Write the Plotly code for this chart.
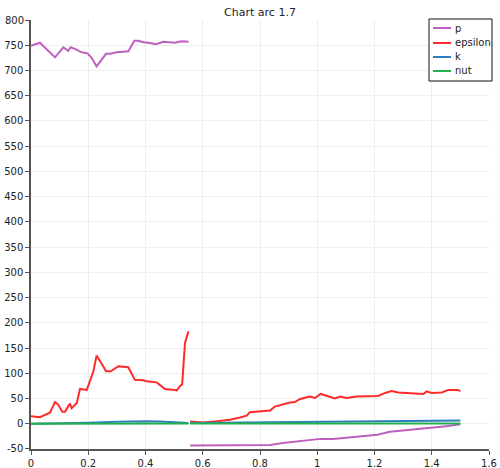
import plotly.graph_objects as go

# p
p_x = [0.0, 0.031, 0.084, 0.113, 0.130, 0.139, 0.157, 0.177, 0.197, 0.212, 0.229, 0.262, 0.276, 0.299, 0.340,
       0.361, 0.375, 0.392, 0.410, 0.437, 0.462, 0.503, 0.526, 0.550,
       None,
       0.556, 0.65, 0.765, 0.835, 0.88, 0.95, 1.01, 1.056, 1.13, 1.21, 1.254, 1.33, 1.394, 1.45, 1.5]
p_y = [749, 755, 726, 746, 739, 746, 742, 736, 734, 725, 708, 733, 733, 736, 738,
       759, 759, 756, 755, 752, 757, 755, 758, 757,
       None,
       -43, -43, -43, -42, -38, -34, -30, -30, -26, -22, -16, -12, -8.5, -5, -1]

# epsilon
e_x = [0.0, 0.031, 0.066, 0.084, 0.095, 0.109, 0.119, 0.136, 0.142, 0.160, 0.171, 0.195, 0.218, 0.229, 0.247,
       0.262, 0.279, 0.305, 0.340, 0.363, 0.392, 0.404, 0.439, 0.468, 0.503, 0.509, 0.521, 0.528, 0.538, 0.550,
       None,
       0.556, 0.602, 0.649, 0.695, 0.730, 0.753, 0.765, 0.835, 0.852, 0.905, 0.922, 0.940, 0.975, 0.992, 1.012,
       1.033, 1.062, 1.079, 1.103, 1.138, 1.173, 1.213, 1.237, 1.260, 1.283, 1.318, 1.342, 1.371, 1.382, 1.400,
       1.435, 1.458, 1.475, 1.490, 1.500]
e_y = [15, 13, 22, 43, 38, 24, 24, 40, 31, 41, 69, 67, 104, 135, 119,
       104, 104, 114, 112, 87, 86, 84, 82, 69, 67, 66, 75, 78, 160, 183,
       None,
       4.5, 2.6, 5, 8, 12.5, 16, 23, 26, 34, 42, 43, 49, 54, 51, 59,
       55, 50, 54, 51, 54, 54, 55, 61, 65, 62, 61, 59, 59, 64, 61,
       62, 67, 67, 67, 65]

# k
k_x = [0.0, 0.1, 0.2, 0.3, 0.35, 0.4, 0.45, 0.5, 0.55, None, 0.556, 0.7, 0.8, 1.0, 1.2, 1.35, 1.5]
k_y = [0.2, 0.6, 2.0, 4.0, 5.0, 5.0, 4.5, 3.5, 1.5, None, 1.5, 2.3, 3.0, 4.0, 5.0, 5.8, 6.5]

# nut
n_x = [0.0, 0.2, 0.4, 0.55, None, 0.556, 0.8, 1.0, 1.2, 1.5]
n_y = [0.1, 0.2, 0.3, 0.3, None, 0.3, 0.4, 0.5, 0.5, 0.6]

y_ticks = list(range(-50, 801, 50))
y_top = 800

names = ["p", "epsilon", "k", "nut"]
colors = ["#bf5fbf", "#ff2a2a", "#2f7fc0", "#22b04a"]
series = [(p_x, p_y), (e_x, e_y), (k_x, k_y), (n_x, n_y)]

fig = go.Figure()
for name, col, (xs, ys) in zip(names, colors, series):
    fig.add_trace(go.Scatter(x=xs, y=ys, mode="lines", name=name, showlegend=False,
                             line=dict(color=col, width=2), connectgaps=False))

# compact legend box (styled like the reference)
W, H, L, T = 458.0, 429.0, 31.0, 20.0
def px(xp):
    return (xp - L) / W
def py(yp):
    return (T + H - yp) / H

shapes = [dict(type="rect", xref="paper", yref="paper", x0=px(429), x1=px(492), y0=py(81), y1=py(19),
               line=dict(color="#111111", width=1), fillcolor="white", layer="above")]
annotations = []
rows = [28, 43, 57, 71]
for name, col, ry in zip(names, colors, rows):
    shapes.append(dict(type="line", xref="paper", yref="paper", x0=px(433), x1=px(451), y0=py(ry), y1=py(ry),
                       line=dict(color=col, width=2), layer="above"))
    annotations.append(dict(text=name, xref="paper", yref="paper", x=px(453), y=py(ry), xanchor="left",
                            yanchor="middle", showarrow=False, font=dict(size=10, color="#222222")))

# top y tick label (hidden by plotly at the range edge)
annotations.append(dict(text=str(y_top), xref="paper", yref="y", x=0, y=y_top, xanchor="right",
                        yanchor="middle", xshift=-5, showarrow=False,
                        font=dict(size=10, color="#222222")))

font = "DejaVu Sans"
fig.update_layout(
    width=500, height=468,
    margin=dict(l=31, r=11, t=20, b=19),
    paper_bgcolor="white", plot_bgcolor="white",
    font=dict(family=font, size=10, color="#222222"),
    title=dict(text="Chart arc 1.7", x=0.5, xref="paper", y=1 - 12 / 468, yref="container",
               xanchor="center", yanchor="middle", font=dict(size=11, color="#222222")),
    showlegend=False,
    shapes=shapes, annotations=annotations,
)
fig.update_xaxes(range=[0, 1.6], dtick=0.2, showgrid=True, gridcolor="#eeeeee",
                 showline=True, linecolor="#555555", linewidth=1.5, ticks="outside",
                 ticklen=4, tickcolor="#555555", zeroline=False, automargin=False,
                 ticklabeloverflow="allow")
fig.update_yaxes(range=[-50.05, 800.05], tickmode="array", tickvals=y_ticks,
                 ticktext=[str(v) if v != y_top else "" for v in y_ticks], showgrid=True,
                 gridcolor="#eeeeee",
                 showline=True, linecolor="#555555", linewidth=1.5, ticks="outside",
                 ticklen=4, tickcolor="#555555", zeroline=False, automargin=False,
                 ticklabeloverflow="allow")

fig.write_html("out.html", config={"displayModeBar": False},
               post_script="document.body.style.margin='0px';")
